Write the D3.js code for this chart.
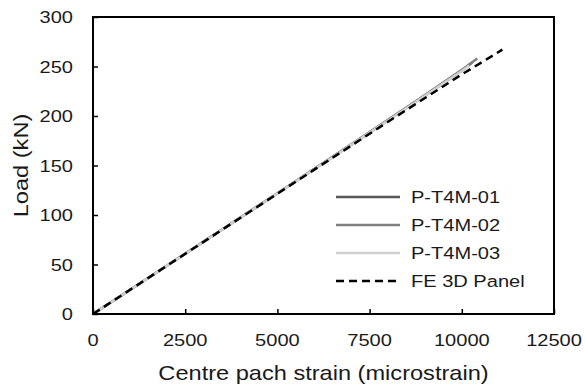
<!DOCTYPE html>
<html>
<head>
    <meta charset="utf-8">
    <title>Load vs centre patch strain</title>
    <script type="text/javascript" src="https://cdn.jsdelivr.net/npm/d3@7"></script>
    <style>
        body { margin: 0; background: #fff; }
        text { font-family: Arial, "Liberation Sans", sans-serif; fill: #1a1a1a; }
    </style>
</head>

<body>

<script type="text/javascript">
    // data
    var strain01 = [0, 1000, 2000, 3000, 4000, 5000, 6000, 7000, 8000, 9000, 10000, 10280];
    var load01   = [0, 24.3, 48.7, 73.1, 97.5, 121.9, 146.4, 171.0, 195.8, 220.6, 245.8, 254.0];

    var strain02 = [0, 1000, 2000, 3000, 4000, 5000, 6000, 7000, 8000, 9000, 10000, 10420];
    var load02   = [0, 24.4, 48.8, 73.2, 97.6, 122.0, 146.6, 171.3, 196.2, 221.3, 246.8, 258.0];

    var strain03 = [0, 1000, 2000, 3000, 4000, 5000, 6000, 7000, 8000, 9000, 10000, 10200];
    var load03   = [0, 24.3, 48.6, 73.0, 97.4, 121.8, 146.2, 170.8, 195.5, 220.3, 245.4, 251.0];

    var strainFE = [0, 2000, 4000, 6000, 8000, 10000, 11100];
    var loadFE   = [0, 48.6, 97.2, 145.8, 194.2, 242.0, 267.0];

    var seriesNames = ["P-T4M-01", "P-T4M-02", "P-T4M-03", "FE 3D Panel"];
    var xTicks = [0, 2500, 5000, 7500, 10000, 12500];
    var yTicks = [0, 50, 100, 150, 200, 250, 300];

    var _width = 585, _height = 389,
        _margins = {top: 17, left: 93, right: 31, bottom: 75},
        _stretch = 1.18; // glyphs in the original are drawn wide

    var styles = [
        {color: "#595959", width: 2.5, dash: null},
        {color: "#808080", width: 2.5, dash: null},
        {color: "#d0d0d0", width: 2.5, dash: null},
        {color: "#000000", width: 2.5, dash: "8,5"}
    ];

    function zip(xs, ys) {
        return xs.map(function (x, i) { return {x: x, y: ys[i]}; });
    }

    var data = [zip(strain01, load01), zip(strain02, load02), zip(strain03, load03), zip(strainFE, loadFE)];

    var svg = d3.select("body").append("svg")
            .attr("width", _width)
            .attr("height", _height);

    var _x = d3.scaleLinear().domain([0, 12500])
            .range([_margins.left, _width - _margins.right]);
    var _y = d3.scaleLinear().domain([0, 300])
            .range([_height - _margins.bottom, _margins.top]);

    // stretched text helper
    function label(g, str, x, y, size, anchor, rotate) {
        return g.append("text")
                .attr("transform", "translate(" + x + "," + y + ")" +
                    (rotate ? " rotate(" + rotate + ")" : "") +
                    " scale(" + _stretch + ",1)")
                .attr("text-anchor", anchor)
                .style("font-size", size + "px")
                .text(str);
    }

    // axes, ticks pointing inwards
    var xAxis = d3.axisBottom(_x).tickValues(xTicks).tickSizeInner(-5).tickSizeOuter(0).tickFormat("");
    var yAxis = d3.axisLeft(_y).tickValues(yTicks).tickSizeInner(-5).tickSizeOuter(0).tickFormat("");

    svg.append("g")
            .attr("transform", "translate(0," + _y(0) + ")")
            .call(xAxis)
            .call(function (g) { g.selectAll("line").attr("stroke", "#000").attr("stroke-width", 1.5); g.select(".domain").remove(); });

    svg.append("g")
            .attr("transform", "translate(" + _x(0) + ",0)")
            .call(yAxis)
            .call(function (g) { g.selectAll("line").attr("stroke", "#000").attr("stroke-width", 1.5); g.select(".domain").remove(); });

    var labelsG = svg.append("g");

    xTicks.forEach(function (t) {
        label(labelsG, String(t), _x(t), _y(0) + 32, 17, "middle");
    });

    yTicks.forEach(function (t) {
        label(labelsG, String(t), _x(0) - 20, _y(t) + 6, 17, "end");
    });

    label(labelsG, "Centre pach strain (microstrain)", (_x(0) + _x(12500)) / 2, 380, 20, "middle");
    label(labelsG, "Load (kN)", 28, (_y(0) + _y(300)) / 2, 20, "middle", -90);

    // series
    var line = d3.line()
            .x(function (d) { return _x(d.x); })
            .y(function (d) { return _y(d.y); });

    svg.append("g").selectAll("path.line")
            .data(data)
            .enter()
            .append("path")
            .attr("class", "line")
            .attr("fill", "none")
            .attr("stroke", function (d, i) { return styles[i].color; })
            .attr("stroke-width", function (d, i) { return styles[i].width; })
            .attr("stroke-dasharray", function (d, i) { return styles[i].dash; })
            .attr("d", line);

    // plot frame
    svg.append("rect")
            .attr("x", _x(0))
            .attr("y", _y(300))
            .attr("width", _x(12500) - _x(0))
            .attr("height", _y(0) - _y(300))
            .attr("fill", "none")
            .attr("stroke", "#000")
            .attr("stroke-width", 2);

    // legend
    var legendG = svg.append("g");
    seriesNames.forEach(function (name, i) {
        var ly = 197 + i * 28;
        legendG.append("line")
                .attr("x1", 336).attr("x2", 400)
                .attr("y1", ly).attr("y2", ly)
                .attr("stroke", styles[i].color)
                .attr("stroke-width", styles[i].width)
                .attr("stroke-dasharray", styles[i].dash);
        label(legendG, name, 411, ly + 6, 17, "start");
    });
</script>

</body>
</html>
